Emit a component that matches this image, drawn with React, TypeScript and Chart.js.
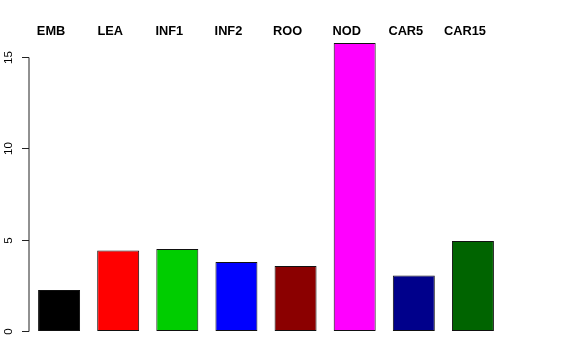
import React, { useEffect, useRef } from "react";
import { Chart, registerables } from "chart.js";

Chart.register(...registerables);

const categories = ["EMB", "LEA", "INF1", "INF2", "ROO", "NOD", "CAR5", "CAR15"];
const values = [2.24, 4.4, 4.49, 3.78, 3.56, 15.76, 3.04, 4.93];
const barColors = ["#000000", "#FF0000", "#00CD00", "#0000FF", "#8B0000", "#FF00FF", "#00008B", "#006400"];
const yTicks = [0, 5, 10, 15];

const FONT = "'Liberation Sans', Arial, Helvetica, sans-serif";

const rAxisPlugin = {
  id: "rAxis",
  afterDraw(chart: any) {
    const ctx = chart.ctx as CanvasRenderingContext2D;
    const y = chart.scales.y;
    const x = chart.scales.x;
    const axisX = chart.chartArea.left - 0.5;
    ctx.save();
    ctx.strokeStyle = "#222";
    ctx.lineWidth = 1;
    const top = y.getPixelForValue(yTicks[yTicks.length - 1]);
    const bottom = y.getPixelForValue(yTicks[0]);
    ctx.beginPath();
    ctx.moveTo(axisX, Math.round(top) + 0.5);
    ctx.lineTo(axisX, Math.round(bottom) + 0.5);
    ctx.stroke();
    ctx.fillStyle = "#000";
    ctx.font = `11.5px ${FONT}`;
    ctx.textAlign = "center";
    ctx.textBaseline = "middle";
    yTicks.forEach((t) => {
      const py = Math.round(y.getPixelForValue(t)) + 0.5;
      ctx.beginPath();
      ctx.moveTo(axisX - 7, py);
      ctx.lineTo(axisX, py);
      ctx.stroke();
      ctx.save();
      ctx.translate(9, py);
      ctx.rotate(-Math.PI / 2);
      ctx.fillText(String(t), 0, 0);
      ctx.restore();
    });
    ctx.font = `bold 12.8px ${FONT}`;
    ctx.textBaseline = "alphabetic";
    categories.forEach((c, i) => {
      const px = x.getPixelForValue(i) - 8;
      ctx.fillText(c, px, 35);
    });
    ctx.restore();
  },
};

export default function App() {
  const ref = useRef<HTMLCanvasElement | null>(null);
  useEffect(() => {
    if (!ref.current) return;
    const chart = new Chart(ref.current, {
      type: "bar",
      data: {
        labels: categories,
        datasets: [
          {
            data: values,
            backgroundColor: barColors,
            borderColor: "#111111",
            borderWidth: 1,
            borderSkipped: false,
            barPercentage: 0.71,
            categoryPercentage: 1,
          },
        ],
      },
      options: {
        responsive: false,
        animation: false,
        events: [],
        layout: { padding: { left: 29.5, right: 73.5, top: 31.5, bottom: 17.5 } },
        plugins: { legend: { display: false }, tooltip: { enabled: false } },
        scales: {
          x: { display: false, offset: true },
          y: { display: false, min: -0.63, max: 16.39 },
        },
      },
      plugins: [rAxisPlugin],
    });
    return () => chart.destroy();
  }, []);
  return (
    <div style={{ position: "fixed", left: 0, top: 0, width: 576, height: 360, background: "#fff" }}>
      <canvas ref={ref} width={576} height={360} />
    </div>
  );
}
